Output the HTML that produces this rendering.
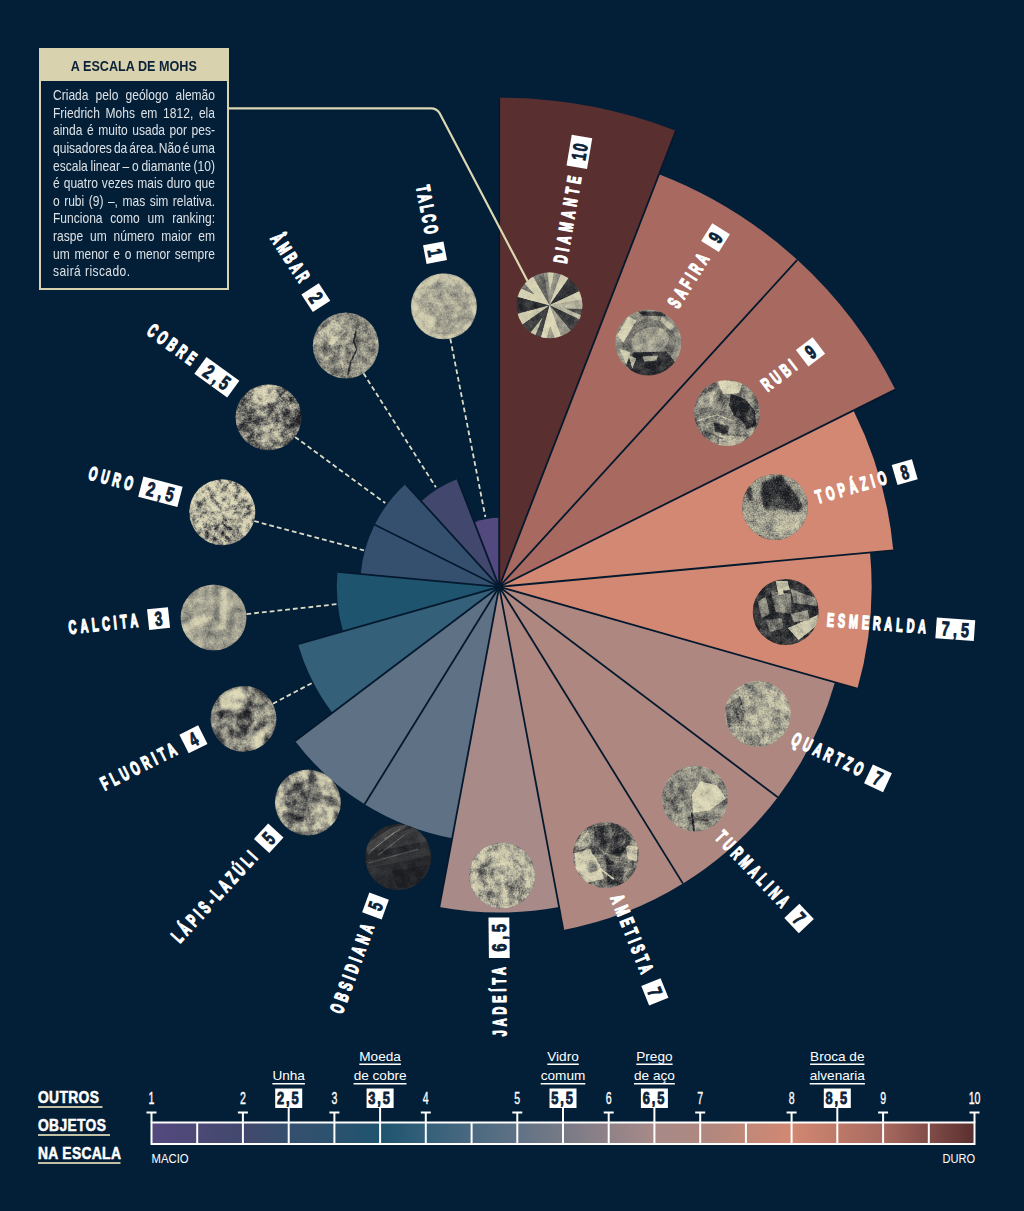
<!DOCTYPE html>
<html lang="pt-BR">
<head>
<meta charset="utf-8">
<title>A Escala de Mohs</title>
<style>
html,body{margin:0;padding:0;background:#031f37;}
body{width:1024px;height:1211px;position:relative;overflow:hidden;font-family:"Liberation Sans",sans-serif;}
svg{position:absolute;left:0;top:0;display:block;}
.lbl{font-family:"Liberation Sans",sans-serif;font-weight:bold;fill:#fff;stroke:#fff;stroke-width:1.2px;vector-effect:non-scaling-stroke;stroke-linejoin:round;}
.num{font-family:"Liberation Sans",sans-serif;font-weight:bold;fill:#0b2238;stroke:#0b2238;stroke-width:0.8px;letter-spacing:2.4px;vector-effect:non-scaling-stroke;stroke-linejoin:round;}
#box{position:absolute;left:39px;top:48px;width:186px;height:238px;border:2px solid #d8d2ae;}
#box h1{margin:0;height:31px;background:#d8d2ae;color:#0b2238;font-size:14.4px;line-height:33px;text-align:center;font-weight:bold;}
#box h1 span{display:inline-block;transform:scaleX(0.877);transform-origin:50% 50%;white-space:nowrap;}
#para{position:absolute;left:11.6px;top:37.1px;width:192.4px;color:#dde2e6;font-size:14.3px;line-height:17.62px;word-spacing:-2.15px;transform:scaleX(0.842);transform-origin:0 0;}
#para div{white-space:nowrap;text-align:justify;text-align-last:justify;height:17.62px;}
#para div.last{text-align-last:left;word-spacing:0;letter-spacing:0.5px;}
</style>
</head>
<body>
<svg width="1024" height="1211" viewBox="0 0 1024 1211">
<defs>

<filter id="st0" x="-5%" y="-5%" width="110%" height="110%" color-interpolation-filters="sRGB"><feGaussianBlur in="SourceGraphic" stdDeviation="0.35" result="sb"/><feTurbulence type="fractalNoise" baseFrequency="0.12" numOctaves="5" seed="3" result="n"/><feColorMatrix in="n" type="matrix" values="1 0 0 0 0  1 0 0 0 0  1 0 0 0 0  0 0 0 0 1" result="ng"/><feComposite in="sb" in2="ng" operator="arithmetic" k1="0" k2="1" k3="0.35" k4="-0.175" result="m"/><feTurbulence type="fractalNoise" baseFrequency="0.6" numOctaves="2" seed="43" result="n2"/><feColorMatrix in="n2" type="matrix" values="0 1 0 0 0  0 1 0 0 0  0 1 0 0 0  0 0 0 0 1" result="ng2"/><feComposite in="m" in2="ng2" operator="arithmetic" k1="0" k2="1" k3="0.2" k4="-0.100" result="m2"/><feComponentTransfer in="m2" result="d"><feFuncR type="table" tableValues="0.10 0.30 0.57 0.79 0.88"/><feFuncG type="table" tableValues="0.11 0.30 0.565 0.775 0.86"/><feFuncB type="table" tableValues="0.13 0.30 0.52 0.67 0.73"/></feComponentTransfer><feComposite in="d" in2="SourceGraphic" operator="in"/></filter>
<filter id="st1" x="-5%" y="-5%" width="110%" height="110%" color-interpolation-filters="sRGB"><feGaussianBlur in="SourceGraphic" stdDeviation="0.45" result="sb"/><feTurbulence type="fractalNoise" baseFrequency="0.11" numOctaves="5" seed="11" result="n"/><feColorMatrix in="n" type="matrix" values="1 0 0 0 0  1 0 0 0 0  1 0 0 0 0  0 0 0 0 1" result="ng"/><feComposite in="sb" in2="ng" operator="arithmetic" k1="0" k2="1" k3="0.45" k4="-0.225" result="m"/><feTurbulence type="fractalNoise" baseFrequency="0.6" numOctaves="2" seed="51" result="n2"/><feColorMatrix in="n2" type="matrix" values="0 1 0 0 0  0 1 0 0 0  0 1 0 0 0  0 0 0 0 1" result="ng2"/><feComposite in="m" in2="ng2" operator="arithmetic" k1="0" k2="1" k3="0.3" k4="-0.150" result="m2"/><feComponentTransfer in="m2" result="d"><feFuncR type="table" tableValues="0.10 0.30 0.57 0.79 0.88"/><feFuncG type="table" tableValues="0.11 0.30 0.565 0.775 0.86"/><feFuncB type="table" tableValues="0.13 0.30 0.52 0.67 0.73"/></feComponentTransfer><feComposite in="d" in2="SourceGraphic" operator="in"/></filter>
<filter id="st2" x="-5%" y="-5%" width="110%" height="110%" color-interpolation-filters="sRGB"><feGaussianBlur in="SourceGraphic" stdDeviation="0.5" result="sb"/><feTurbulence type="fractalNoise" baseFrequency="0.11" numOctaves="5" seed="17" result="n"/><feColorMatrix in="n" type="matrix" values="1 0 0 0 0  1 0 0 0 0  1 0 0 0 0  0 0 0 0 1" result="ng"/><feComposite in="sb" in2="ng" operator="arithmetic" k1="0" k2="1" k3="0.7" k4="-0.350" result="m"/><feTurbulence type="fractalNoise" baseFrequency="0.6" numOctaves="2" seed="57" result="n2"/><feColorMatrix in="n2" type="matrix" values="0 1 0 0 0  0 1 0 0 0  0 1 0 0 0  0 0 0 0 1" result="ng2"/><feComposite in="m" in2="ng2" operator="arithmetic" k1="0" k2="1" k3="0.45" k4="-0.225" result="m2"/><feComponentTransfer in="m2" result="d"><feFuncR type="table" tableValues="0.10 0.30 0.57 0.79 0.88"/><feFuncG type="table" tableValues="0.11 0.30 0.565 0.775 0.86"/><feFuncB type="table" tableValues="0.13 0.30 0.52 0.67 0.73"/></feComponentTransfer><feComposite in="d" in2="SourceGraphic" operator="in"/></filter>
<filter id="st3" x="-5%" y="-5%" width="110%" height="110%" color-interpolation-filters="sRGB"><feGaussianBlur in="SourceGraphic" stdDeviation="0.9" result="sb"/><feTurbulence type="fractalNoise" baseFrequency="0.12" numOctaves="5" seed="23" result="n"/><feColorMatrix in="n" type="matrix" values="1 0 0 0 0  1 0 0 0 0  1 0 0 0 0  0 0 0 0 1" result="ng"/><feComposite in="sb" in2="ng" operator="arithmetic" k1="0" k2="1" k3="0.5" k4="-0.250" result="m"/><feTurbulence type="fractalNoise" baseFrequency="0.7" numOctaves="2" seed="63" result="n2"/><feColorMatrix in="n2" type="matrix" values="0 1 0 0 0  0 1 0 0 0  0 1 0 0 0  0 0 0 0 1" result="ng2"/><feComposite in="m" in2="ng2" operator="arithmetic" k1="0" k2="1" k3="0.55" k4="-0.275" result="m2"/><feComponentTransfer in="m2" result="d"><feFuncR type="table" tableValues="0.10 0.30 0.57 0.79 0.88"/><feFuncG type="table" tableValues="0.11 0.30 0.565 0.775 0.86"/><feFuncB type="table" tableValues="0.13 0.30 0.52 0.67 0.73"/></feComponentTransfer><feComposite in="d" in2="SourceGraphic" operator="in"/></filter>
<filter id="st4" x="-5%" y="-5%" width="110%" height="110%" color-interpolation-filters="sRGB"><feGaussianBlur in="SourceGraphic" stdDeviation="0.5" result="sb"/><feTurbulence type="fractalNoise" baseFrequency="0.12" numOctaves="5" seed="29" result="n"/><feColorMatrix in="n" type="matrix" values="1 0 0 0 0  1 0 0 0 0  1 0 0 0 0  0 0 0 0 1" result="ng"/><feComposite in="sb" in2="ng" operator="arithmetic" k1="0" k2="1" k3="0.5" k4="-0.250" result="m"/><feTurbulence type="fractalNoise" baseFrequency="0.6" numOctaves="2" seed="69" result="n2"/><feColorMatrix in="n2" type="matrix" values="0 1 0 0 0  0 1 0 0 0  0 1 0 0 0  0 0 0 0 1" result="ng2"/><feComposite in="m" in2="ng2" operator="arithmetic" k1="0" k2="1" k3="0.35" k4="-0.175" result="m2"/><feComponentTransfer in="m2" result="d"><feFuncR type="table" tableValues="0.10 0.30 0.57 0.79 0.88"/><feFuncG type="table" tableValues="0.11 0.30 0.565 0.775 0.86"/><feFuncB type="table" tableValues="0.13 0.30 0.52 0.67 0.73"/></feComponentTransfer><feComposite in="d" in2="SourceGraphic" operator="in"/></filter>
<filter id="st5" x="-5%" y="-5%" width="110%" height="110%" color-interpolation-filters="sRGB"><feGaussianBlur in="SourceGraphic" stdDeviation="0.7" result="sb"/><feTurbulence type="fractalNoise" baseFrequency="0.13" numOctaves="5" seed="31" result="n"/><feColorMatrix in="n" type="matrix" values="1 0 0 0 0  1 0 0 0 0  1 0 0 0 0  0 0 0 0 1" result="ng"/><feComposite in="sb" in2="ng" operator="arithmetic" k1="0" k2="1" k3="0.65" k4="-0.325" result="m"/><feTurbulence type="fractalNoise" baseFrequency="0.6" numOctaves="2" seed="71" result="n2"/><feColorMatrix in="n2" type="matrix" values="0 1 0 0 0  0 1 0 0 0  0 1 0 0 0  0 0 0 0 1" result="ng2"/><feComposite in="m" in2="ng2" operator="arithmetic" k1="0" k2="1" k3="0.45" k4="-0.225" result="m2"/><feComponentTransfer in="m2" result="d"><feFuncR type="table" tableValues="0.10 0.30 0.57 0.79 0.88"/><feFuncG type="table" tableValues="0.11 0.30 0.565 0.775 0.86"/><feFuncB type="table" tableValues="0.13 0.30 0.52 0.67 0.73"/></feComponentTransfer><feComposite in="d" in2="SourceGraphic" operator="in"/></filter>
<filter id="st6" x="-5%" y="-5%" width="110%" height="110%" color-interpolation-filters="sRGB"><feGaussianBlur in="SourceGraphic" stdDeviation="0.45" result="sb"/><feTurbulence type="fractalNoise" baseFrequency="0.12" numOctaves="5" seed="37" result="n"/><feColorMatrix in="n" type="matrix" values="1 0 0 0 0  1 0 0 0 0  1 0 0 0 0  0 0 0 0 1" result="ng"/><feComposite in="sb" in2="ng" operator="arithmetic" k1="0" k2="1" k3="0.6" k4="-0.300" result="m"/><feTurbulence type="fractalNoise" baseFrequency="0.6" numOctaves="2" seed="77" result="n2"/><feColorMatrix in="n2" type="matrix" values="0 1 0 0 0  0 1 0 0 0  0 1 0 0 0  0 0 0 0 1" result="ng2"/><feComposite in="m" in2="ng2" operator="arithmetic" k1="0" k2="1" k3="0.4" k4="-0.200" result="m2"/><feComponentTransfer in="m2" result="d"><feFuncR type="table" tableValues="0.10 0.30 0.57 0.79 0.88"/><feFuncG type="table" tableValues="0.11 0.30 0.565 0.775 0.86"/><feFuncB type="table" tableValues="0.13 0.30 0.52 0.67 0.73"/></feComponentTransfer><feComposite in="d" in2="SourceGraphic" operator="in"/></filter>
<filter id="st7" x="-5%" y="-5%" width="110%" height="110%" color-interpolation-filters="sRGB"><feGaussianBlur in="SourceGraphic" stdDeviation="0.5" result="sb"/><feTurbulence type="fractalNoise" baseFrequency="0.12" numOctaves="5" seed="41" result="n"/><feColorMatrix in="n" type="matrix" values="1 0 0 0 0  1 0 0 0 0  1 0 0 0 0  0 0 0 0 1" result="ng"/><feComposite in="sb" in2="ng" operator="arithmetic" k1="0" k2="1" k3="0.7" k4="-0.350" result="m"/><feTurbulence type="fractalNoise" baseFrequency="0.6" numOctaves="2" seed="81" result="n2"/><feColorMatrix in="n2" type="matrix" values="0 1 0 0 0  0 1 0 0 0  0 1 0 0 0  0 0 0 0 1" result="ng2"/><feComposite in="m" in2="ng2" operator="arithmetic" k1="0" k2="1" k3="0.45" k4="-0.225" result="m2"/><feComponentTransfer in="m2" result="d"><feFuncR type="table" tableValues="0.10 0.30 0.57 0.79 0.88"/><feFuncG type="table" tableValues="0.11 0.30 0.565 0.775 0.86"/><feFuncB type="table" tableValues="0.13 0.30 0.52 0.67 0.73"/></feComponentTransfer><feComposite in="d" in2="SourceGraphic" operator="in"/></filter>
<filter id="st8" x="-5%" y="-5%" width="110%" height="110%" color-interpolation-filters="sRGB"><feGaussianBlur in="SourceGraphic" stdDeviation="1.2" result="sb"/><feTurbulence type="fractalNoise" baseFrequency="0.13" numOctaves="5" seed="43" result="n"/><feColorMatrix in="n" type="matrix" values="1 0 0 0 0  1 0 0 0 0  1 0 0 0 0  0 0 0 0 1" result="ng"/><feComposite in="sb" in2="ng" operator="arithmetic" k1="0" k2="1" k3="0.8" k4="-0.400" result="m"/><feTurbulence type="fractalNoise" baseFrequency="0.6" numOctaves="2" seed="83" result="n2"/><feColorMatrix in="n2" type="matrix" values="0 1 0 0 0  0 1 0 0 0  0 1 0 0 0  0 0 0 0 1" result="ng2"/><feComposite in="m" in2="ng2" operator="arithmetic" k1="0" k2="1" k3="0.5" k4="-0.250" result="m2"/><feComponentTransfer in="m2" result="d"><feFuncR type="table" tableValues="0.10 0.30 0.57 0.79 0.88"/><feFuncG type="table" tableValues="0.11 0.30 0.565 0.775 0.86"/><feFuncB type="table" tableValues="0.13 0.30 0.52 0.67 0.73"/></feComponentTransfer><feComposite in="d" in2="SourceGraphic" operator="in"/></filter>
<filter id="st9" x="-5%" y="-5%" width="110%" height="110%" color-interpolation-filters="sRGB"><feGaussianBlur in="SourceGraphic" stdDeviation="0.5" result="sb"/><feTurbulence type="fractalNoise" baseFrequency="0.1" numOctaves="5" seed="47" result="n"/><feColorMatrix in="n" type="matrix" values="1 0 0 0 0  1 0 0 0 0  1 0 0 0 0  0 0 0 0 1" result="ng"/><feComposite in="sb" in2="ng" operator="arithmetic" k1="0" k2="1" k3="0.16" k4="-0.080" result="m"/><feTurbulence type="fractalNoise" baseFrequency="0.7" numOctaves="2" seed="87" result="n2"/><feColorMatrix in="n2" type="matrix" values="0 1 0 0 0  0 1 0 0 0  0 1 0 0 0  0 0 0 0 1" result="ng2"/><feComposite in="m" in2="ng2" operator="arithmetic" k1="0" k2="1" k3="0.1" k4="-0.050" result="m2"/><feComponentTransfer in="m2" result="d"><feFuncR type="table" tableValues="0.10 0.30 0.57 0.79 0.88"/><feFuncG type="table" tableValues="0.11 0.30 0.565 0.775 0.86"/><feFuncB type="table" tableValues="0.13 0.30 0.52 0.67 0.73"/></feComponentTransfer><feComposite in="d" in2="SourceGraphic" operator="in"/></filter>
<filter id="st10" x="-5%" y="-5%" width="110%" height="110%" color-interpolation-filters="sRGB"><feGaussianBlur in="SourceGraphic" stdDeviation="0.8" result="sb"/><feTurbulence type="fractalNoise" baseFrequency="0.1" numOctaves="5" seed="53" result="n"/><feColorMatrix in="n" type="matrix" values="1 0 0 0 0  1 0 0 0 0  1 0 0 0 0  0 0 0 0 1" result="ng"/><feComposite in="sb" in2="ng" operator="arithmetic" k1="0" k2="1" k3="1.0" k4="-0.500" result="m"/><feTurbulence type="fractalNoise" baseFrequency="0.6" numOctaves="2" seed="93" result="n2"/><feColorMatrix in="n2" type="matrix" values="0 1 0 0 0  0 1 0 0 0  0 1 0 0 0  0 0 0 0 1" result="ng2"/><feComposite in="m" in2="ng2" operator="arithmetic" k1="0" k2="1" k3="0.35" k4="-0.175" result="m2"/><feComponentTransfer in="m2" result="d"><feFuncR type="table" tableValues="0.10 0.30 0.57 0.79 0.88"/><feFuncG type="table" tableValues="0.11 0.30 0.565 0.775 0.86"/><feFuncB type="table" tableValues="0.13 0.30 0.52 0.67 0.73"/></feComponentTransfer><feComposite in="d" in2="SourceGraphic" operator="in"/></filter>
<filter id="st11" x="-5%" y="-5%" width="110%" height="110%" color-interpolation-filters="sRGB"><feGaussianBlur in="SourceGraphic" stdDeviation="0.8" result="sb"/><feTurbulence type="fractalNoise" baseFrequency="0.1" numOctaves="5" seed="59" result="n"/><feColorMatrix in="n" type="matrix" values="1 0 0 0 0  1 0 0 0 0  1 0 0 0 0  0 0 0 0 1" result="ng"/><feComposite in="sb" in2="ng" operator="arithmetic" k1="0" k2="1" k3="0.95" k4="-0.475" result="m"/><feTurbulence type="fractalNoise" baseFrequency="0.6" numOctaves="2" seed="99" result="n2"/><feColorMatrix in="n2" type="matrix" values="0 1 0 0 0  0 1 0 0 0  0 1 0 0 0  0 0 0 0 1" result="ng2"/><feComposite in="m" in2="ng2" operator="arithmetic" k1="0" k2="1" k3="0.35" k4="-0.175" result="m2"/><feComponentTransfer in="m2" result="d"><feFuncR type="table" tableValues="0.10 0.30 0.57 0.79 0.88"/><feFuncG type="table" tableValues="0.11 0.30 0.565 0.775 0.86"/><feFuncB type="table" tableValues="0.13 0.30 0.52 0.67 0.73"/></feComponentTransfer><feComposite in="d" in2="SourceGraphic" operator="in"/></filter>
<filter id="st12" x="-5%" y="-5%" width="110%" height="110%" color-interpolation-filters="sRGB"><feGaussianBlur in="SourceGraphic" stdDeviation="1.2" result="sb"/><feTurbulence type="fractalNoise" baseFrequency="0.1" numOctaves="5" seed="61" result="n"/><feColorMatrix in="n" type="matrix" values="1 0 0 0 0  1 0 0 0 0  1 0 0 0 0  0 0 0 0 1" result="ng"/><feComposite in="sb" in2="ng" operator="arithmetic" k1="0" k2="1" k3="0.5" k4="-0.250" result="m"/><feTurbulence type="fractalNoise" baseFrequency="0.6" numOctaves="2" seed="101" result="n2"/><feColorMatrix in="n2" type="matrix" values="0 1 0 0 0  0 1 0 0 0  0 1 0 0 0  0 0 0 0 1" result="ng2"/><feComposite in="m" in2="ng2" operator="arithmetic" k1="0" k2="1" k3="0.3" k4="-0.150" result="m2"/><feComponentTransfer in="m2" result="d"><feFuncR type="table" tableValues="0.10 0.30 0.57 0.79 0.88"/><feFuncG type="table" tableValues="0.11 0.30 0.565 0.775 0.86"/><feFuncB type="table" tableValues="0.13 0.30 0.52 0.67 0.73"/></feComponentTransfer><feComposite in="d" in2="SourceGraphic" operator="in"/></filter>
<filter id="st13" x="-5%" y="-5%" width="110%" height="110%" color-interpolation-filters="sRGB"><feGaussianBlur in="SourceGraphic" stdDeviation="1.0" result="sb"/><feTurbulence type="fractalNoise" baseFrequency="0.16" numOctaves="5" seed="67" result="n"/><feColorMatrix in="n" type="matrix" values="1 0 0 0 0  1 0 0 0 0  1 0 0 0 0  0 0 0 0 1" result="ng"/><feComposite in="sb" in2="ng" operator="arithmetic" k1="0" k2="1" k3="1.4" k4="-0.700" result="m"/><feTurbulence type="fractalNoise" baseFrequency="0.6" numOctaves="2" seed="107" result="n2"/><feColorMatrix in="n2" type="matrix" values="0 1 0 0 0  0 1 0 0 0  0 1 0 0 0  0 0 0 0 1" result="ng2"/><feComposite in="m" in2="ng2" operator="arithmetic" k1="0" k2="1" k3="0.6" k4="-0.300" result="m2"/><feComponentTransfer in="m2" result="d"><feFuncR type="table" tableValues="0.10 0.30 0.57 0.79 0.88"/><feFuncG type="table" tableValues="0.11 0.30 0.565 0.775 0.86"/><feFuncB type="table" tableValues="0.13 0.30 0.52 0.67 0.73"/></feComponentTransfer><feComposite in="d" in2="SourceGraphic" operator="in"/></filter>
<filter id="st14" x="-5%" y="-5%" width="110%" height="110%" color-interpolation-filters="sRGB"><feGaussianBlur in="SourceGraphic" stdDeviation="0.9" result="sb"/><feTurbulence type="fractalNoise" baseFrequency="0.14" numOctaves="5" seed="71" result="n"/><feColorMatrix in="n" type="matrix" values="1 0 0 0 0  1 0 0 0 0  1 0 0 0 0  0 0 0 0 1" result="ng"/><feComposite in="sb" in2="ng" operator="arithmetic" k1="0" k2="1" k3="0.95" k4="-0.475" result="m"/><feTurbulence type="fractalNoise" baseFrequency="0.6" numOctaves="2" seed="111" result="n2"/><feColorMatrix in="n2" type="matrix" values="0 1 0 0 0  0 1 0 0 0  0 1 0 0 0  0 0 0 0 1" result="ng2"/><feComposite in="m" in2="ng2" operator="arithmetic" k1="0" k2="1" k3="0.55" k4="-0.275" result="m2"/><feComponentTransfer in="m2" result="d"><feFuncR type="table" tableValues="0.10 0.30 0.57 0.79 0.88"/><feFuncG type="table" tableValues="0.11 0.30 0.565 0.775 0.86"/><feFuncB type="table" tableValues="0.13 0.30 0.52 0.67 0.73"/></feComponentTransfer><feComposite in="d" in2="SourceGraphic" operator="in"/></filter>
<filter id="st15" x="-5%" y="-5%" width="110%" height="110%" color-interpolation-filters="sRGB"><feGaussianBlur in="SourceGraphic" stdDeviation="0.45" result="sb"/><feTurbulence type="fractalNoise" baseFrequency="0.13" numOctaves="5" seed="73" result="n"/><feColorMatrix in="n" type="matrix" values="1 0 0 0 0  1 0 0 0 0  1 0 0 0 0  0 0 0 0 1" result="ng"/><feComposite in="sb" in2="ng" operator="arithmetic" k1="0" k2="1" k3="0.7" k4="-0.350" result="m"/><feTurbulence type="fractalNoise" baseFrequency="0.6" numOctaves="2" seed="113" result="n2"/><feColorMatrix in="n2" type="matrix" values="0 1 0 0 0  0 1 0 0 0  0 1 0 0 0  0 0 0 0 1" result="ng2"/><feComposite in="m" in2="ng2" operator="arithmetic" k1="0" k2="1" k3="0.4" k4="-0.200" result="m2"/><feComponentTransfer in="m2" result="d"><feFuncR type="table" tableValues="0.10 0.30 0.57 0.79 0.88"/><feFuncG type="table" tableValues="0.11 0.30 0.565 0.775 0.86"/><feFuncB type="table" tableValues="0.13 0.30 0.52 0.67 0.73"/></feComponentTransfer><feComposite in="d" in2="SourceGraphic" operator="in"/></filter>
<filter id="st16" x="-5%" y="-5%" width="110%" height="110%" color-interpolation-filters="sRGB"><feGaussianBlur in="SourceGraphic" stdDeviation="1.6" result="sb"/><feTurbulence type="fractalNoise" baseFrequency="0.12" numOctaves="5" seed="79" result="n"/><feColorMatrix in="n" type="matrix" values="1 0 0 0 0  1 0 0 0 0  1 0 0 0 0  0 0 0 0 1" result="ng"/><feComposite in="sb" in2="ng" operator="arithmetic" k1="0" k2="1" k3="0.5" k4="-0.250" result="m"/><feTurbulence type="fractalNoise" baseFrequency="0.6" numOctaves="2" seed="119" result="n2"/><feColorMatrix in="n2" type="matrix" values="0 1 0 0 0  0 1 0 0 0  0 1 0 0 0  0 0 0 0 1" result="ng2"/><feComposite in="m" in2="ng2" operator="arithmetic" k1="0" k2="1" k3="0.3" k4="-0.150" result="m2"/><feComponentTransfer in="m2" result="d"><feFuncR type="table" tableValues="0.10 0.30 0.57 0.79 0.88"/><feFuncG type="table" tableValues="0.11 0.30 0.565 0.775 0.86"/><feFuncB type="table" tableValues="0.13 0.30 0.52 0.67 0.73"/></feComponentTransfer><feComposite in="d" in2="SourceGraphic" operator="in"/></filter>
<clipPath id="cc"><circle cx="0" cy="0" r="33"/></clipPath>
<linearGradient id="bar" x1="0" y1="0" x2="1" y2="0">
<stop offset="0" stop-color="#54497f"/>
<stop offset="0.111" stop-color="#42486d"/>
<stop offset="0.17" stop-color="#35506e"/>
<stop offset="0.28" stop-color="#1f546f"/>
<stop offset="0.333" stop-color="#34607a"/>
<stop offset="0.444" stop-color="#5f7285"/>
<stop offset="0.611" stop-color="#a88a89"/>
<stop offset="0.667" stop-color="#ae8880"/>
<stop offset="0.778" stop-color="#d28872"/>
<stop offset="0.889" stop-color="#a86a60"/>
<stop offset="1" stop-color="#5a2f2f"/>
</linearGradient>
</defs>

<rect width="1024" height="1211" fill="#031f37"/>
<path d="M499.2,586.8 L499.20,97.70 A489.1,489.1 0 0 1 675.88,130.73 Z" fill="#5a2f2f"/>
<path d="M499.2,586.8 L659.02,174.25 A442.4,442.4 0 0 1 797.26,259.84 Z" fill="#a86a60"/>
<path d="M499.2,586.8 L797.26,259.84 A442.4,442.4 0 0 1 895.25,389.59 Z" fill="#a86a60"/>
<path d="M499.2,586.8 L853.47,410.39 A395.8,395.8 0 0 1 893.27,550.28 Z" fill="#d28872"/>
<path d="M499.2,586.8 L870.04,552.44 A372.4,372.4 0 0 1 857.41,688.72 Z" fill="#d28872"/>
<path d="M499.2,586.8 L834.96,682.33 A349.1,349.1 0 0 1 777.78,797.17 Z" fill="#ae8880"/>
<path d="M499.2,586.8 L777.78,797.17 A349.1,349.1 0 0 1 682.97,883.60 Z" fill="#ae8880"/>
<path d="M499.2,586.8 L682.97,883.60 A349.1,349.1 0 0 1 563.35,929.95 Z" fill="#ae8880"/>
<path d="M499.2,586.8 L559.06,907.01 A325.8,325.8 0 0 1 439.34,907.01 Z" fill="#a88a89"/>
<path d="M499.2,586.8 L452.21,838.20 A255.8,255.8 0 0 1 364.56,804.24 Z" fill="#5f7285"/>
<path d="M499.2,586.8 L364.56,804.24 A255.8,255.8 0 0 1 295.11,740.92 Z" fill="#5f7285"/>
<path d="M499.2,586.8 L332.35,712.80 A209.1,209.1 0 0 1 298.10,644.02 Z" fill="#34607a"/>
<path d="M499.2,586.8 L342.99,631.25 A162.4,162.4 0 0 1 337.48,571.81 Z" fill="#1f546f"/>
<path d="M499.2,586.8 L360.72,573.97 A139.1,139.1 0 0 1 374.71,524.81 Z" fill="#35506e"/>
<path d="M499.2,586.8 L374.71,524.81 A139.1,139.1 0 0 1 405.51,484.02 Z" fill="#35506e"/>
<path d="M499.2,586.8 L421.23,501.27 A115.7,115.7 0 0 1 457.39,478.88 Z" fill="#42486d"/>
<path d="M499.2,586.8 L474.25,522.39 A69.1,69.1 0 0 1 499.20,517.73 Z" fill="#54497f"/>
<g stroke="#05192e" stroke-width="1.8" stroke-linecap="butt">
<line x1="499.2" y1="586.8" x2="499.20" y2="97.70"/>
<line x1="499.2" y1="586.8" x2="675.88" y2="130.73"/>
<line x1="499.2" y1="586.8" x2="797.26" y2="259.84"/>
<line x1="499.2" y1="586.8" x2="895.25" y2="389.59"/>
<line x1="499.2" y1="586.8" x2="893.27" y2="550.28"/>
<line x1="499.2" y1="586.8" x2="857.41" y2="688.72"/>
<line x1="499.2" y1="586.8" x2="777.78" y2="797.17"/>
<line x1="499.2" y1="586.8" x2="682.97" y2="883.60"/>
<line x1="499.2" y1="586.8" x2="563.35" y2="929.95"/>
<line x1="499.2" y1="586.8" x2="439.34" y2="907.01"/>
<line x1="499.2" y1="586.8" x2="364.56" y2="804.24"/>
<line x1="499.2" y1="586.8" x2="295.11" y2="740.92"/>
<line x1="499.2" y1="586.8" x2="298.10" y2="644.02"/>
<line x1="499.2" y1="586.8" x2="337.48" y2="571.81"/>
<line x1="499.2" y1="586.8" x2="374.71" y2="524.81"/>
<line x1="499.2" y1="586.8" x2="405.51" y2="484.02"/>
<line x1="499.2" y1="586.8" x2="457.39" y2="478.88"/>
</g>
<circle cx="499.2" cy="586.8" r="3.6" fill="#05192e"/>
<g stroke="#dcdcc6" stroke-width="1.8" stroke-dasharray="4.8 3" fill="none">
<line x1="272.9" y1="703.7" x2="312.0" y2="683.0"/>
<line x1="246.4" y1="614.1" x2="336.5" y2="604.2"/>
<line x1="254.2" y1="521.0" x2="364.0" y2="550.4"/>
<line x1="295.0" y1="436.9" x2="385.3" y2="503.1"/>
<line x1="363.5" y1="373.3" x2="435.9" y2="487.3"/>
<line x1="450.3" y1="338.7" x2="485.4" y2="517.0"/>
</g>
<path d="M229,108.3 H431 Q437,108.3 439.8,113.5 L527.5,281" fill="none" stroke="#dcd7b2" stroke-width="2.2"/>
<g transform="translate(549.5,305.3)"><g clip-path="url(#cc)" filter="url(#st0)"><circle cx="0" cy="0" r="34" fill="#999999"/><polygon points="0.0,0.0 -6.3,-35.5 12.3,-33.8" fill="#7a7a7a"/><polygon points="0.0,0.0 12.3,-33.8 20.6,-29.5" fill="#dbdbdb"/><polygon points="0.0,0.0 20.6,-29.5 32.6,-15.2" fill="#1f1f1f"/><polygon points="0.0,0.0 32.6,-15.2 35.5,-6.3" fill="#d1d1d1"/><polygon points="0.0,-0.0 35.5,-6.3 32.6,15.2" fill="#a8a8a8"/><polygon points="0.0,-0.0 32.6,15.2 23.1,27.6" fill="#2e2e2e"/><polygon points="0.0,-0.0 23.1,27.6 12.3,33.8" fill="#808080"/><polygon points="0.0,-0.0 12.3,33.8 -9.3,34.8" fill="#ebebeb"/><polygon points="-0.0,-0.0 -9.3,34.8 -29.5,20.6" fill="#333333"/><polygon points="-0.0,-0.0 -29.5,20.6 -34.8,9.3" fill="#cccccc"/><polygon points="-0.0,-0.0 -34.8,9.3 -34.8,-9.3" fill="#212121"/><polygon points="-0.0,0.0 -34.8,-9.3 -18.0,-31.2" fill="#e0e0e0"/><polygon points="-0.0,0.0 -18.0,-31.2 -6.3,-35.5" fill="#5c5c5c"/><polygon points="0.5,-14.0 -2.5,-35.9 5.0,-35.6" fill="#cccccc"/><polygon points="15.7,3.3 35.8,3.8 34.2,11.1" fill="#404040"/><polygon points="-7.0,12.1 -15.2,32.6 -20.6,29.5" fill="#b2b2b2"/><polygon points="-14.6,-10.6 -31.2,-18.0 -26.8,-24.1" fill="#666666"/><polygon points="0.7,20.0 6.3,35.5 -3.8,35.8" fill="#8c8c8c"/></g></g>
<g transform="translate(648.3,342.5)"><g clip-path="url(#cc)" filter="url(#st1)"><circle cx="0" cy="0" r="34" fill="#808080"/><ellipse cx="0" cy="0" rx="34" ry="34" fill="#808080"/><ellipse cx="1" cy="1" rx="27" ry="24" fill="#666666" transform="rotate(-15 1 1)"/><ellipse cx="2" cy="-2" rx="19" ry="13" fill="#8f8f8f" transform="rotate(-15 2 -2)"/><polygon points="-15,10 18,9 27,20 12,34 -12,34 -23,22" fill="#1a1a1a"/><polygon points="-31,-8 -20,-26 -12,-22 -25,0" fill="#d6d6d6"/><polygon points="-29,6 -18,10 -22,22" fill="#c7c7c7"/><polygon points="-20,12 -12,16 -16,26" fill="#a8a8a8"/><polygon points="-10,-31 14,-31 18,-26 -6,-27" fill="#292929"/><polygon points="14,-26 26,-16 22,-12 12,-22" fill="#b8b8b8"/><polygon points="-6,14 10,13 8,18 -4,19" fill="#8c8c8c"/></g></g>
<g transform="translate(727.0,412.9)"><g clip-path="url(#cc)" filter="url(#st2)"><circle cx="0" cy="0" r="34" fill="#707070"/><polygon points="4,-19 18,-14 28,-2 29,12 20,16 14,6 8,4 2,-8" fill="#121212"/><polygon points="-10,-33 16,-31 12,-20 -4,-19" fill="#d6d6d6"/><polygon points="-13,10 3,13 0,21 -12,19" fill="#242424"/><polygon points="-33,-4 -24,-20 -12,-22 -16,-6" fill="#949494"/><polygon points="-8,22 20,24 10,34 -8,33" fill="#a8a8a8"/><path d="M-30,8 L-10,2 L6,8" fill="none" stroke="#adadad" stroke-width="1.5" stroke-linejoin="round"/><path d="M-24,18 L-4,26" fill="none" stroke="#4c4c4c" stroke-width="1.2" stroke-linejoin="round"/><polygon points="18,18 28,14 24,26" fill="#9e9e9e"/></g></g>
<g transform="translate(775.0,506.9)"><g clip-path="url(#cc)" filter="url(#st3)"><circle cx="0" cy="0" r="34" fill="#8c8c8c"/><polygon points="-13,-25 6,-32 17,-18 29,-1 23,4 8,1 -10,3 -14,-11" fill="#1a1a1a"/><polygon points="-4,-10 12,-6 20,2 6,2 -8,4" fill="#3d3d3d"/><polygon points="-29,-18 -24,-22 -22,-8 -27,-6" fill="#262626"/><polygon points="8,6 28,6 26,18 8,30 -2,20" fill="#a8a8a8"/><polygon points="-30,2 -12,6 -14,24 -26,16" fill="#8f8f8f"/></g></g>
<g transform="translate(785.7,612.0)"><g clip-path="url(#cc)" filter="url(#st4)"><circle cx="0" cy="0" r="34" fill="#212121"/><polygon points="-10,-31 2,-31 4,-22 -8,-21" fill="#b8b8b8"/><polygon points="5,-23 30,-14 32,-6 8,-9" fill="#757575"/><polygon points="-15,-21 5,-18 6,2 -10,0" fill="#6b6b6b"/><polygon points="2,16 32,3 32,13 13,28" fill="#bdbdbd"/><polygon points="5,2 22,-2 24,8 8,10" fill="#8c8c8c"/><polygon points="-28,-10 -20,-16 -16,2 -24,6" fill="#7a7a7a"/><polygon points="-20,8 -4,6 -2,16 -16,20" fill="#5c5c5c"/><polygon points="-8,-22 -3,-24 -2,-18 -7,-17" fill="#d9d9d9"/></g></g>
<g transform="translate(757.8,713.8)"><g clip-path="url(#cc)" filter="url(#st5)"><circle cx="0" cy="0" r="34" fill="#999999"/><polygon points="-33,-8 -18,-18 -12,-2 -16,12 -30,14" fill="#666666"/><polygon points="-14,-30 6,-33 4,-16 -8,-14" fill="#858585"/><polygon points="6,-26 24,-20 30,-4 12,-6" fill="#b8b8b8"/><polygon points="-8,2 10,-2 12,14 -4,18" fill="#b2b2b2"/><polygon points="14,4 30,2 28,16 16,20" fill="#808080"/><polygon points="-18,16 0,18 4,32 -12,32" fill="#7a7a7a"/><path d="M-22,-6 L-18,10" fill="none" stroke="#474747" stroke-width="1.5" stroke-linejoin="round"/></g></g>
<g transform="translate(695.0,798.6)"><g clip-path="url(#cc)" filter="url(#st6)"><circle cx="0" cy="0" r="34" fill="#787878"/><polygon points="-3,-4 6,-17 22,-13 31,0 14,12 -2,14" fill="#dbdbdb"/><polygon points="-33,-6 -10,-12 -6,0 -30,10" fill="#666666"/><path d="M-3,14 L-1,33" fill="none" stroke="#1a1a1a" stroke-width="2.0" stroke-linejoin="round"/><path d="M-30,16 L14,22" fill="none" stroke="#4c4c4c" stroke-width="1.4" stroke-linejoin="round"/><polygon points="-24,16 -6,14 -8,28 -20,26" fill="#949494"/><polygon points="-16,-30 2,-33 4,-20 -12,-18" fill="#8c8c8c"/></g></g>
<g transform="translate(605.8,855.1)"><g clip-path="url(#cc)" filter="url(#st7)"><circle cx="0" cy="0" r="34" fill="#616161"/><polygon points="-31,-2 -16,-6 -6,10 -2,24 -20,28 -30,14" fill="#cccccc"/><polygon points="-22,6 -10,4 -8,16 -18,18" fill="#999999"/><polygon points="20,-10 32,-8 31,6 22,4" fill="#cccccc"/><polygon points="-12,-28 12,-31 26,-16 14,2 0,-2 -12,-12" fill="#333333"/><polygon points="0,4 20,10 16,28 2,30" fill="#383838"/><polygon points="-30,-14 -18,-24 -14,-12 -26,-4" fill="#949494"/><path d="M-8,12 L8,24" fill="none" stroke="#d9d9d9" stroke-width="1.6" stroke-linejoin="round"/></g></g>
<g transform="translate(502.2,875.5)"><g clip-path="url(#cc)" filter="url(#st8)"><circle cx="0" cy="0" r="34" fill="#a8a8a8"/><polygon points="-28,-4 -14,-18 -6,-2 -16,12" fill="#808080"/><polygon points="2,8 20,0 26,16 8,28" fill="#7a7a7a"/><polygon points="-6,-30 8,-28 4,-10 -4,-12" fill="#c7c7c7"/><polygon points="-22,14 -6,16 -10,30" fill="#8c8c8c"/></g></g>
<g transform="translate(398.2,857.1)"><g clip-path="url(#cc)" filter="url(#st9)"><circle cx="0" cy="0" r="34" fill="#121212"/><polygon points="-33,-12 -6,-30 12,-33 -30,-2" fill="#363636"/><polygon points="-10,-22 18,-30 30,-16 -22,-6" fill="#262626"/><polygon points="-33,4 30,-10 33,-2 -31,12" fill="#212121"/><polygon points="-6,14 30,8 22,26 0,32" fill="#080808"/><polygon points="-31,12 -6,8 -10,30 -26,22" fill="#141414"/><path d="M-28,-6 L-4,-24" fill="none" stroke="#757575" stroke-width="1.0" stroke-linejoin="round"/><path d="M-20,-2 L6,-22" fill="none" stroke="#666666" stroke-width="0.9" stroke-linejoin="round"/><path d="M-30,6 L20,-8" fill="none" stroke="#525252" stroke-width="0.9" stroke-linejoin="round"/><path d="M-14,-18 L2,-28" fill="none" stroke="#808080" stroke-width="0.8" stroke-linejoin="round"/></g></g>
<g transform="translate(307.9,802.4)"><g clip-path="url(#cc)" filter="url(#st10)"><circle cx="0" cy="0" r="34" fill="#737373"/><polygon points="-24,-14 -8,-22 8,-14 10,2 -4,10 -22,6" fill="#575757"/><polygon points="-33,-2 -26,-16 -22,6 -28,16" fill="#c2c2c2"/><polygon points="6,-31 24,-22 31,-4 14,-8" fill="#b8b8b8"/><polygon points="8,6 28,4 22,24 6,28 -2,16" fill="#b2b2b2"/><polygon points="-20,12 -4,12 -6,30 -18,26" fill="#5c5c5c"/><polygon points="-10,-30 2,-32 0,-22" fill="#b2b2b2"/></g></g>
<g transform="translate(243.5,718.7)"><g clip-path="url(#cc)" filter="url(#st11)"><circle cx="0" cy="0" r="34" fill="#757575"/><polygon points="-24,-22 -4,-31 4,-16 -10,-8 -22,-10" fill="#c7c7c7"/><polygon points="-6,-6 6,-10 10,6 0,14 -8,6" fill="#242424"/><polygon points="8,-26 26,-18 31,0 14,-4" fill="#666666"/><polygon points="-31,4 -12,6 -10,24 -24,20" fill="#6b6b6b"/><polygon points="4,14 24,10 18,28 2,31" fill="#adadad"/><polygon points="-28,-6 -20,-8 -22,2" fill="#333333"/></g></g>
<g transform="translate(213.6,617.5)"><g clip-path="url(#cc)" filter="url(#st12)"><circle cx="0" cy="0" r="34" fill="#919191"/><polygon points="-33,8 -10,-4 -6,2 -30,16" fill="#cccccc"/><polygon points="6,-28 14,-28 12,10 6,12" fill="#c7c7c7"/><polygon points="-14,-31 0,-33 -4,-10 -16,-8" fill="#999999"/><polygon points="-8,14 16,12 12,31 -6,32" fill="#858585"/><polygon points="16,-10 30,-8 28,12 18,10" fill="#808080"/></g></g>
<g transform="translate(222.3,512.2)"><g clip-path="url(#cc)" filter="url(#st13)"><circle cx="0" cy="0" r="34" fill="#b2b2b2"/><polygon points="-20,14 -2,10 16,18 22,26 0,32 -16,26" fill="#737373"/><polygon points="8,-6 24,-14 30,-2 18,6" fill="#858585"/><polygon points="-30,-6 -18,-14 -12,0 -24,6" fill="#8f8f8f"/></g></g>
<g transform="translate(268.5,417.3)"><g clip-path="url(#cc)" filter="url(#st14)"><circle cx="0" cy="0" r="34" fill="#696969"/><polygon points="-14,-30 6,-33 12,-18 -6,-12 -18,-16" fill="#bdbdbd"/><polygon points="-30,4 -16,0 -14,14 -26,16" fill="#474747"/><polygon points="20,-6 33,-8 33,10 22,10" fill="#2e2e2e"/><polygon points="-8,10 12,6 14,24 -6,28" fill="#9e9e9e"/><polygon points="-24,-10 -12,-8 -16,2" fill="#4c4c4c"/></g></g>
<g transform="translate(345.8,345.4)"><g clip-path="url(#cc)" filter="url(#st15)"><circle cx="0" cy="0" r="34" fill="#808080"/><path d="M10,-14 L8,-4 L11,4 L5,16 L2,30" fill="none" stroke="#1a1a1a" stroke-width="1.5" stroke-linejoin="round"/><path d="M-6,-2 L-8,12 L-4,24" fill="none" stroke="#404040" stroke-width="1.0" stroke-linejoin="round"/><polygon points="-28,-12 -12,-26 0,-14 -14,0" fill="#b2b2b2"/><polygon points="-20,8 -4,6 -6,26 -18,22" fill="#757575"/><polygon points="14,-24 26,-12 20,-2" fill="#707070"/></g></g>
<g transform="translate(443.9,306.3)"><g clip-path="url(#cc)" filter="url(#st16)"><circle cx="0" cy="0" r="34" fill="#a8a8a8"/><ellipse cx="0" cy="0" rx="34" ry="34" fill="#bfbfbf"/><ellipse cx="2" cy="2" rx="27" ry="27" fill="#949494"/><polygon points="-16,-18 10,-22 22,-6 6,8 -14,4" fill="#999999"/><polygon points="-26,6 -8,10 -12,26 -24,18" fill="#cccccc"/></g></g>
<g transform="translate(560.40,263.30) rotate(-80.33)">
<text class="lbl" transform="translate(0.4,6.10) scale(0.575,1)" font-size="19.0" letter-spacing="7.52">DIAMANTE</text>
<rect x="97.53" y="-10.40" width="31.0" height="20.8" fill="#fff"/>
<text class="num" transform="translate(113.84,7.00) scale(0.68,1)" font-size="20.0" text-anchor="middle" style="letter-spacing:2.4px">10</text>
</g>
<g transform="translate(672.70,306.60) rotate(-58.15)">
<text class="lbl" transform="translate(0.4,6.10) scale(0.575,1)" font-size="19.0" letter-spacing="6.62">SAFIRA</text>
<rect x="70.71" y="-10.40" width="21.0" height="20.8" fill="#fff"/>
<text class="num" transform="translate(82.03,7.00) scale(0.68,1)" font-size="20.0" text-anchor="middle" style="letter-spacing:2.4px">9</text>
</g>
<g transform="translate(763.40,387.50) rotate(-37.12)">
<text class="lbl" transform="translate(0.4,6.10) scale(0.575,1)" font-size="19.0" letter-spacing="6.78">RUBI</text>
<rect x="48.60" y="-10.40" width="21.0" height="20.8" fill="#fff"/>
<text class="num" transform="translate(59.92,7.00) scale(0.68,1)" font-size="20.0" text-anchor="middle" style="letter-spacing:2.4px">9</text>
</g>
<g transform="translate(815.70,497.90) rotate(-16.15)">
<text class="lbl" transform="translate(0.4,6.10) scale(0.575,1)" font-size="19.0" letter-spacing="7.17">TOPÁZIO</text>
<rect x="82.17" y="-10.40" width="21.0" height="20.8" fill="#fff"/>
<text class="num" transform="translate(93.49,7.00) scale(0.68,1)" font-size="20.0" text-anchor="middle" style="letter-spacing:2.4px">8</text>
</g>
<g transform="translate(826.60,620.10) rotate(4.10)">
<text class="lbl" transform="translate(0.4,6.10) scale(0.575,1)" font-size="19.0" letter-spacing="6.57">ESMERALDA</text>
<rect x="109.78" y="-10.40" width="38.5" height="20.8" fill="#fff"/>
<text class="num" transform="translate(130.90,7.00) scale(0.72,1)" font-size="20.0" text-anchor="middle" style="letter-spacing:5.2px">7,5</text>
</g>
<g transform="translate(792.22,738.02) rotate(25.17)">
<text class="lbl" transform="translate(0.4,6.10) scale(0.575,1)" font-size="19.0" letter-spacing="6.66">QUARTZO</text>
<rect x="84.24" y="-10.40" width="21.0" height="20.8" fill="#fff"/>
<text class="num" transform="translate(95.56,7.00) scale(0.68,1)" font-size="20.0" text-anchor="middle" style="letter-spacing:2.4px">7</text>
</g>
<g transform="translate(718.36,833.85) rotate(46.35)">
<text class="lbl" transform="translate(0.4,6.10) scale(0.575,1)" font-size="19.0" letter-spacing="7.04">TURMALINA</text>
<rect x="106.44" y="-10.40" width="21.0" height="20.8" fill="#fff"/>
<text class="num" transform="translate(117.76,7.00) scale(0.68,1)" font-size="20.0" text-anchor="middle" style="letter-spacing:2.4px">7</text>
</g>
<g transform="translate(615.80,895.10) rotate(68.01)">
<text class="lbl" transform="translate(0.4,6.10) scale(0.575,1)" font-size="19.0" letter-spacing="7.02">AMETISTA</text>
<rect x="93.85" y="-10.40" width="21.0" height="20.8" fill="#fff"/>
<text class="num" transform="translate(105.17,7.00) scale(0.68,1)" font-size="20.0" text-anchor="middle" style="letter-spacing:2.4px">7</text>
</g>
<g transform="translate(500.20,1036.60) rotate(269.37)">
<text class="lbl" transform="translate(0.4,6.10) scale(0.575,1)" font-size="19.0" letter-spacing="6.74">JADEÍTA</text>
<rect x="78.61" y="-10.40" width="40.5" height="20.8" fill="#fff"/>
<text class="num" transform="translate(100.73,7.00) scale(0.72,1)" font-size="20.0" text-anchor="middle" style="letter-spacing:5.2px">6,5</text>
</g>
<g transform="translate(336.20,1013.10) rotate(290.14)">
<text class="lbl" transform="translate(0.4,6.10) scale(0.575,1)" font-size="19.0" letter-spacing="7.04">OBSIDIANA</text>
<rect x="103.62" y="-10.40" width="21.0" height="20.8" fill="#fff"/>
<text class="num" transform="translate(114.93,7.00) scale(0.68,1)" font-size="20.0" text-anchor="middle" style="letter-spacing:2.4px">5</text>
</g>
<g transform="translate(174.96,940.00) rotate(312.65)">
<text class="lbl" transform="translate(0.4,6.10) scale(0.575,1)" font-size="19.0" letter-spacing="6.57">LÁPIS-LAZÚLI</text>
<rect x="127.88" y="-10.40" width="21.0" height="20.8" fill="#fff"/>
<text class="num" transform="translate(139.20,7.00) scale(0.68,1)" font-size="20.0" text-anchor="middle" style="letter-spacing:2.4px">5</text>
</g>
<g transform="translate(101.70,785.50) rotate(333.28)">
<text class="lbl" transform="translate(0.4,6.10) scale(0.575,1)" font-size="19.0" letter-spacing="6.88">FLUORITA</text>
<rect x="92.19" y="-10.40" width="21.0" height="20.8" fill="#fff"/>
<text class="num" transform="translate(103.51,7.00) scale(0.68,1)" font-size="20.0" text-anchor="middle" style="letter-spacing:2.4px">4</text>
</g>
<g transform="translate(68.30,627.90) rotate(354.10)">
<text class="lbl" transform="translate(0.4,6.10) scale(0.575,1)" font-size="19.0" letter-spacing="6.51">CALCITA</text>
<rect x="80.24" y="-10.40" width="21.0" height="20.8" fill="#fff"/>
<text class="num" transform="translate(91.55,7.00) scale(0.68,1)" font-size="20.0" text-anchor="middle" style="letter-spacing:2.4px">3</text>
</g>
<g transform="translate(88.61,473.06) rotate(374.58)">
<text class="lbl" transform="translate(0.4,6.10) scale(0.575,1)" font-size="19.0" letter-spacing="7.20">OURO</text>
<rect x="53.92" y="-10.40" width="40.5" height="20.8" fill="#fff"/>
<text class="num" transform="translate(76.04,7.00) scale(0.72,1)" font-size="20.0" text-anchor="middle" style="letter-spacing:5.2px">2,5</text>
</g>
<g transform="translate(148.92,328.33) rotate(395.76)">
<text class="lbl" transform="translate(0.4,6.10) scale(0.575,1)" font-size="19.0" letter-spacing="6.85">COBRE</text>
<rect x="63.45" y="-10.40" width="40.5" height="20.8" fill="#fff"/>
<text class="num" transform="translate(85.58,7.00) scale(0.72,1)" font-size="20.0" text-anchor="middle" style="letter-spacing:5.2px">2,5</text>
</g>
<g transform="translate(274.95,234.87) rotate(416.94)">
<text class="lbl" transform="translate(0.4,6.10) scale(0.575,1)" font-size="19.0" letter-spacing="5.76">ÂMBAR</text>
<rect x="64.40" y="-10.40" width="21.0" height="20.8" fill="#fff"/>
<text class="num" transform="translate(75.71,7.00) scale(0.68,1)" font-size="20.0" text-anchor="middle" style="letter-spacing:2.4px">2</text>
</g>
<g transform="translate(422.10,185.20) rotate(439.16)">
<text class="lbl" transform="translate(0.4,6.10) scale(0.575,1)" font-size="19.0" letter-spacing="5.25">TALCO</text>
<rect x="59.19" y="-10.40" width="19.0" height="20.8" fill="#fff"/>
<text class="num" transform="translate(69.51,7.00) scale(0.68,1)" font-size="20.0" text-anchor="middle" style="letter-spacing:2.4px">1</text>
</g>
<rect x="151.5" y="1122.5" width="823.0" height="21.5" fill="url(#bar)"/>
<g stroke="#fff" stroke-width="2" fill="none">
<rect x="151.5" y="1122.5" width="823.0" height="21.5"/>
<line x1="197.2" y1="1122.5" x2="197.2" y2="1144.0"/>
<line x1="242.9" y1="1122.5" x2="242.9" y2="1144.0"/>
<line x1="288.7" y1="1122.5" x2="288.7" y2="1144.0"/>
<line x1="334.4" y1="1122.5" x2="334.4" y2="1144.0"/>
<line x1="380.1" y1="1122.5" x2="380.1" y2="1144.0"/>
<line x1="425.8" y1="1122.5" x2="425.8" y2="1144.0"/>
<line x1="471.6" y1="1122.5" x2="471.6" y2="1144.0"/>
<line x1="517.3" y1="1122.5" x2="517.3" y2="1144.0"/>
<line x1="563.0" y1="1122.5" x2="563.0" y2="1144.0"/>
<line x1="608.7" y1="1122.5" x2="608.7" y2="1144.0"/>
<line x1="654.4" y1="1122.5" x2="654.4" y2="1144.0"/>
<line x1="700.2" y1="1122.5" x2="700.2" y2="1144.0"/>
<line x1="745.9" y1="1122.5" x2="745.9" y2="1144.0"/>
<line x1="791.6" y1="1122.5" x2="791.6" y2="1144.0"/>
<line x1="837.3" y1="1122.5" x2="837.3" y2="1144.0"/>
<line x1="883.1" y1="1122.5" x2="883.1" y2="1144.0"/>
<line x1="928.8" y1="1122.5" x2="928.8" y2="1144.0"/>
<path d="M146.5,1112.5 H156.5 M151.5,1112.5 V1122.5"/>
<path d="M237.9,1112.5 H247.9 M242.9,1112.5 V1122.5"/>
<path d="M329.4,1112.5 H339.4 M334.4,1112.5 V1122.5"/>
<path d="M420.8,1112.5 H430.8 M425.8,1112.5 V1122.5"/>
<path d="M512.3,1112.5 H522.3 M517.3,1112.5 V1122.5"/>
<path d="M603.7,1112.5 H613.7 M608.7,1112.5 V1122.5"/>
<path d="M695.2,1112.5 H705.2 M700.2,1112.5 V1122.5"/>
<path d="M786.6,1112.5 H796.6 M791.6,1112.5 V1122.5"/>
<path d="M878.1,1112.5 H888.1 M883.1,1112.5 V1122.5"/>
<path d="M969.5,1112.5 H979.5 M974.5,1112.5 V1122.5"/>
<line x1="288.7" y1="1107" x2="288.7" y2="1122.5"/>
<line x1="380.1" y1="1107" x2="380.1" y2="1122.5"/>
<line x1="563.0" y1="1107" x2="563.0" y2="1122.5"/>
<line x1="654.4" y1="1107" x2="654.4" y2="1122.5"/>
<line x1="837.3" y1="1107" x2="837.3" y2="1122.5"/>
</g>
<text transform="translate(151.5,1104) scale(0.64,1)" font-family="Liberation Sans,sans-serif" font-size="16.5" fill="#fff" stroke="#fff" stroke-width="0.35" text-anchor="middle">1</text>
<text transform="translate(242.9,1104) scale(0.64,1)" font-family="Liberation Sans,sans-serif" font-size="16.5" fill="#fff" stroke="#fff" stroke-width="0.35" text-anchor="middle">2</text>
<text transform="translate(334.4,1104) scale(0.64,1)" font-family="Liberation Sans,sans-serif" font-size="16.5" fill="#fff" stroke="#fff" stroke-width="0.35" text-anchor="middle">3</text>
<text transform="translate(425.8,1104) scale(0.64,1)" font-family="Liberation Sans,sans-serif" font-size="16.5" fill="#fff" stroke="#fff" stroke-width="0.35" text-anchor="middle">4</text>
<text transform="translate(517.3,1104) scale(0.64,1)" font-family="Liberation Sans,sans-serif" font-size="16.5" fill="#fff" stroke="#fff" stroke-width="0.35" text-anchor="middle">5</text>
<text transform="translate(608.7,1104) scale(0.64,1)" font-family="Liberation Sans,sans-serif" font-size="16.5" fill="#fff" stroke="#fff" stroke-width="0.35" text-anchor="middle">6</text>
<text transform="translate(700.2,1104) scale(0.64,1)" font-family="Liberation Sans,sans-serif" font-size="16.5" fill="#fff" stroke="#fff" stroke-width="0.35" text-anchor="middle">7</text>
<text transform="translate(791.6,1104) scale(0.64,1)" font-family="Liberation Sans,sans-serif" font-size="16.5" fill="#fff" stroke="#fff" stroke-width="0.35" text-anchor="middle">8</text>
<text transform="translate(883.1,1104) scale(0.64,1)" font-family="Liberation Sans,sans-serif" font-size="16.5" fill="#fff" stroke="#fff" stroke-width="0.35" text-anchor="middle">9</text>
<text transform="translate(974.5,1104) scale(0.64,1)" font-family="Liberation Sans,sans-serif" font-size="16.5" fill="#fff" stroke="#fff" stroke-width="0.35" text-anchor="middle">10</text>
<rect x="275.2" y="1088.5" width="27" height="19.5" fill="#fff"/>
<text class="num" transform="translate(288.7,1104) scale(0.8,1)" font-size="16" text-anchor="middle">2,5</text>
<text x="288.7" y="1080.0" font-family="Liberation Sans,sans-serif" font-size="13.6" fill="#fff" text-anchor="middle">Unha</text>
<rect x="272.4" y="1083.0" width="32.5" height="1.5" fill="#fff"/>
<rect x="366.6" y="1088.5" width="27" height="19.5" fill="#fff"/>
<text class="num" transform="translate(380.1,1104) scale(0.8,1)" font-size="16" text-anchor="middle">3,5</text>
<text x="380.1" y="1080.0" font-family="Liberation Sans,sans-serif" font-size="13.6" fill="#fff" text-anchor="middle">de cobre</text>
<rect x="353.6" y="1083.0" width="52.9" height="1.5" fill="#fff"/>
<text x="380.1" y="1060.5" font-family="Liberation Sans,sans-serif" font-size="13.6" fill="#fff" text-anchor="middle">Moeda</text>
<rect x="359.3" y="1063.5" width="41.6" height="1.5" fill="#fff"/>
<rect x="549.5" y="1088.5" width="27" height="19.5" fill="#fff"/>
<text class="num" transform="translate(563.0,1104) scale(0.8,1)" font-size="16" text-anchor="middle">5,5</text>
<text x="563.0" y="1080.0" font-family="Liberation Sans,sans-serif" font-size="13.6" fill="#fff" text-anchor="middle">comum</text>
<rect x="540.7" y="1083.0" width="44.6" height="1.5" fill="#fff"/>
<text x="563.0" y="1060.5" font-family="Liberation Sans,sans-serif" font-size="13.6" fill="#fff" text-anchor="middle">Vidro</text>
<rect x="547.3" y="1063.5" width="31.5" height="1.5" fill="#fff"/>
<rect x="640.9" y="1088.5" width="27" height="19.5" fill="#fff"/>
<text class="num" transform="translate(654.4,1104) scale(0.8,1)" font-size="16" text-anchor="middle">6,5</text>
<text x="654.4" y="1080.0" font-family="Liberation Sans,sans-serif" font-size="13.6" fill="#fff" text-anchor="middle">de aço</text>
<rect x="634.0" y="1083.0" width="40.8" height="1.5" fill="#fff"/>
<text x="654.4" y="1060.5" font-family="Liberation Sans,sans-serif" font-size="13.6" fill="#fff" text-anchor="middle">Prego</text>
<rect x="636.3" y="1063.5" width="36.3" height="1.5" fill="#fff"/>
<rect x="823.8" y="1088.5" width="27" height="19.5" fill="#fff"/>
<text class="num" transform="translate(837.3,1104) scale(0.8,1)" font-size="16" text-anchor="middle">8,5</text>
<text x="837.3" y="1080.0" font-family="Liberation Sans,sans-serif" font-size="13.6" fill="#fff" text-anchor="middle">alvenaria</text>
<rect x="809.7" y="1083.0" width="55.2" height="1.5" fill="#fff"/>
<text x="837.3" y="1060.5" font-family="Liberation Sans,sans-serif" font-size="13.6" fill="#fff" text-anchor="middle">Broca de</text>
<rect x="810.1" y="1063.5" width="54.4" height="1.5" fill="#fff"/>
<text transform="translate(151.5,1163) scale(0.86,1)" font-family="Liberation Sans,sans-serif" font-size="13.2" fill="#fff">MACIO</text>
<text transform="translate(975.0,1163) scale(0.84,1)" font-family="Liberation Sans,sans-serif" font-size="13.2" fill="#fff" text-anchor="end">DURO</text>
<text transform="translate(38,1103.0) scale(0.865,1)" font-family="Liberation Sans,sans-serif" font-weight="bold" font-size="16" fill="#fff" stroke="#fff" stroke-width="0.5" letter-spacing="0.4">OUTROS</text>
<rect x="38" y="1106.1" width="64.5" height="1.8" fill="#d8d2ae"/>
<text transform="translate(38,1131.0) scale(0.865,1)" font-family="Liberation Sans,sans-serif" font-weight="bold" font-size="16" fill="#fff" stroke="#fff" stroke-width="0.5" letter-spacing="0.4">OBJETOS</text>
<rect x="38" y="1134.1" width="72.0" height="1.8" fill="#d8d2ae"/>
<text transform="translate(38,1159.0) scale(0.865,1)" font-family="Liberation Sans,sans-serif" font-weight="bold" font-size="16" fill="#fff" stroke="#fff" stroke-width="0.5" letter-spacing="0.4">NA ESCALA</text>
<rect x="38" y="1162.1" width="82.5" height="1.8" fill="#d8d2ae"/>
</svg>
<div id="box"><h1><span>A ESCALA DE MOHS</span></h1><div id="para">
<div>Criada pelo geólogo alemão</div>
<div>Friedrich Mohs em 1812, ela</div>
<div>ainda é muito usada por pes-</div>
<div>quisadores da área. Não é uma</div>
<div>escala linear – o diamante (10)</div>
<div>é quatro vezes mais duro que</div>
<div>o rubi (9) –, mas sim relativa.</div>
<div>Funciona como um ranking:</div>
<div>raspe um número maior em</div>
<div>um menor e o menor sempre</div>
<div class="last">sairá riscado.</div>
</div></div>
</body></html>
